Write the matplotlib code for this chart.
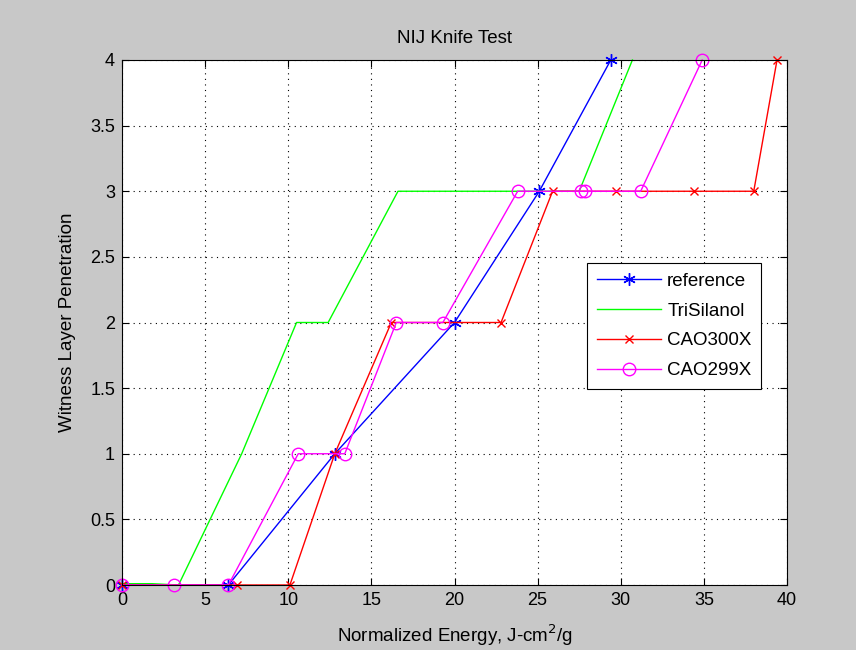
import matplotlib
matplotlib.use('Agg')
import matplotlib.pyplot as plt

# penetration depth vs normalized energy for each sample set
ref_x = [0, 6.4, 12.8, 20.0, 25.1, 29.4]
ref_y = [0, 0, 1, 2, 3, 4]

tri_x = [0, 1.8, 3.4, 7.2, 10.5, 12.4, 16.6, 27.5, 30.7]
tri_y = [0.01, 0.01, 0, 1, 2, 2, 3, 3, 4]

c300_x = [0, 6.9, 10.1, 12.8, 16.2, 22.8, 25.9, 29.7, 34.4, 38.0, 39.4]
c300_y = [0, 0, 0, 1, 2, 2, 3, 3, 3, 3, 4]

c299_x = [0, 3.1, 6.4, 10.6, 13.4, 16.5, 19.3, 23.8, 27.6, 27.85, 31.2, 34.9]
c299_y = [0, 0, 0, 1, 1, 2, 2, 3, 3, 3, 3, 4]

plt.rcParams['font.family'] = ['Liberation Sans', 'DejaVu Sans']
plt.rcParams['font.size'] = 13

fig = plt.figure(figsize=(8.56, 6.5), dpi=100, facecolor='#c8c8c8')
ax = fig.add_axes([122 / 856, 1 - 585 / 650, 665 / 856, 525 / 650])
ax.set_facecolor('white')

ax.plot(ref_x, ref_y, color='blue', lw=1, marker=(6, 2, 0), ms=9, mew=1,
        label='reference', clip_on=False)
ax.plot(tri_x, tri_y, color='#00ff00', lw=1, label='TriSilanol', clip_on=False)
ax.plot(c300_x, c300_y, color='red', lw=1, marker='x', ms=6, mew=1,
        label='CAO300X', clip_on=False)
ax.plot(c299_x, c299_y, color='magenta', lw=1, marker='o', ms=9, mew=1,
        mfc='none', label='CAO299X', clip_on=False)

ax.set_xlim(0, 40)
ax.set_ylim(0, 4)
ax.set_xticks(range(0, 41, 5))
ax.set_yticks([0, 0.5, 1, 1.5, 2, 2.5, 3, 3.5, 4])
ax.set_yticklabels(['0', '0.5', '1', '1.5', '2', '2.5', '3', '3.5', '4'])
ax.grid(True, color='black', linestyle=(0, (1, 4)), linewidth=0.8)
ax.tick_params(direction='in', top=True, right=True, length=5,
               labelsize=13, pad=5)
for s in ax.spines.values():
    s.set_linewidth(0.8)

ax.set_title('NIJ Knife Test', fontsize=13.5, pad=12)
ax.set_xlabel('Normalized Energy, J-cm$^2$/g', fontsize=13.5, labelpad=10)
ax.set_ylabel('Witness Layer Penetration', fontsize=13.5, labelpad=10)

leg = ax.legend(loc='upper left', bbox_to_anchor=(0.70, 0.613), fancybox=False,
                edgecolor='black', framealpha=1, fontsize=13.5, handlelength=3.4,
                handletextpad=0.35, borderpad=0.5, labelspacing=0.68,
                borderaxespad=0)
leg.get_frame().set_linewidth(0.8)

fig.savefig('out.png', dpi=100, facecolor=fig.get_facecolor())
